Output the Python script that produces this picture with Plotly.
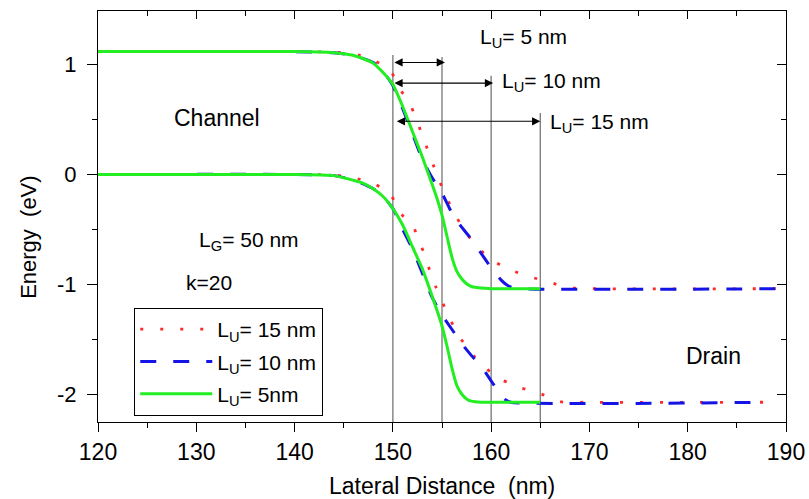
import plotly.graph_objects as go

# ---------------- data ----------------
X_RANGE = [120, 190]
Y_RANGE = [-2.255, 1.49]
y_tickvals = [-2, -1, 0, 1]
y_ticktext = ["-2", "-1", "0", "1"]

# L_U = 15 nm (red dotted) : conduction band (cb) and valence band (vb)
x15_cb = [120, 140, 144, 146, 148, 149, 149.9, 150.6, 151.6, 152.3, 152.9, 153.5, 154.1, 154.7,
          155.4, 156.2, 157.1, 158.3, 159.9, 161.85, 163.9, 165.9, 167.8, 170, 190]
e15_cb = [1.12, 1.12, 1.115, 1.10, 1.045, 0.99, 0.925, 0.79, 0.67, 0.525, 0.38, 0.235, 0.09, -0.05,
          -0.2, -0.34, -0.485, -0.63, -0.77, -0.865, -0.93, -0.98, -1.03, -1.04, -1.04]
x15_vb = [120, 142, 144, 146, 148, 149, 149.9, 150.6, 152.0, 152.6, 153.3, 153.8, 154.4, 155.1,
          155.85, 156.7, 157.8, 159.4, 161.1, 163.1, 165.1, 167.0, 170, 188]
e15_vb = [0, 0, -0.005, -0.03, -0.08, -0.13, -0.2, -0.34, -0.455, -0.6, -0.74, -0.89, -1.03, -1.175,
          -1.325, -1.465, -1.61, -1.76, -1.87, -1.945, -2.0, -2.07, -2.075, -2.075]

# L_U = 10 nm (blue dashed)
x10_cb = [120, 140, 144, 146, 148, 149, 150, 151, 152, 153, 154, 155, 156, 157, 158, 159, 160,
          161, 161.5, 162, 163, 190]
e10_cb = [1.12, 1.12, 1.11, 1.085, 1.02, 0.94, 0.81, 0.6, 0.37, 0.14, -0.03, -0.17, -0.35, -0.48,
          -0.59, -0.72, -0.85, -0.96, -1.0, -1.025, -1.04, -1.04]
x10_vb = [120, 140, 144, 146, 148, 149, 150, 151, 152, 153, 154, 155, 156, 157, 158, 159, 160,
          160.9, 161.5, 162, 188]
e10_vb = [0, 0, -0.01, -0.05, -0.13, -0.2, -0.31, -0.5, -0.68, -0.9, -1.12, -1.28, -1.41, -1.54,
          -1.65, -1.75, -1.88, -2.0, -2.055, -2.075, -2.075]

# L_U = 5 nm (green solid)
x5_cb = [120, 140, 144, 145, 146, 147, 148, 149, 150, 151, 152, 153, 154, 154.5, 155, 155.5, 156,
         156.5, 157, 157.5, 158, 159, 160, 165]
e5_cb = [1.12, 1.12, 1.11, 1.10, 1.085, 1.055, 1.015, 0.93, 0.82, 0.62, 0.39, 0.16, -0.09, -0.22,
         -0.37, -0.56, -0.75, -0.88, -0.95, -0.995, -1.02, -1.035, -1.04, -1.04]
x5_vb = [120, 140, 144, 145, 147, 148, 149, 150, 151, 152, 153, 154, 155, 155.5, 156, 156.5, 157,
         157.5, 158, 159, 160, 165]
e5_vb = [0, 0, -0.01, -0.03, -0.08, -0.13, -0.2, -0.31, -0.46, -0.66, -0.86, -1.11, -1.38, -1.56,
         -1.76, -1.92, -2.0, -2.045, -2.065, -2.075, -2.075, -2.075]

series_names = ["L<sub>U</sub>= 15 nm", "L<sub>U</sub>= 10 nm", "L<sub>U</sub>= 5nm"]

# vertical guide lines and double arrows
vline_x = [150, 155, 160, 165]
vline_top = [1.09, 1.07, 0.9, 0.56]
arrow_start = [150, 150, 150.25]
arrow_end = [155.3, 160.2, 165]
arrow_y = [1.021, 0.833, 0.485]
arrow_labels = ["L<sub>U</sub>= 5 nm", "L<sub>U</sub>= 10 nm", "L<sub>U</sub>= 15 nm"]
arrow_label_x = [158.7, 160.9, 165.8]
arrow_label_y = [1.245, 0.84, 0.47]

FONT = "Liberation Sans, Arial, sans-serif"

fig = go.Figure()

styles = [
    dict(color="#ff2a2a", width=2.8, dash="3px,17px"),
    dict(color="#1414e6", width=3, dash="16px,17px"),
    dict(color="#22ee22", width=3),
]
data = [(x15_cb, e15_cb, x15_vb, e15_vb), (x10_cb, e10_cb, x10_vb, e10_vb), (x5_cb, e5_cb, x5_vb, e5_vb)]

for name, (xc, ec, xv, ev), st in zip(series_names, data, styles):
    fig.add_trace(go.Scatter(x=xc, y=ec, mode="lines", name=name, legendgroup=name,
                             line=dict(shape="spline", smoothing=0.6, **st), hoverinfo="skip"))
    fig.add_trace(go.Scatter(x=xv, y=ev, mode="lines", name=name, legendgroup=name, showlegend=False,
                             line=dict(shape="spline", smoothing=0.6, **st), hoverinfo="skip"))

# empty trace so the mirrored (top / right) axes are drawn
fig.add_trace(go.Scatter(x=[], y=[], xaxis="x2", yaxis="y2", showlegend=False, hoverinfo="skip"))

shapes = []
for vx, vt in zip(vline_x, vline_top):
    shapes.append(dict(type="line", xref="x", yref="y", x0=vx, x1=vx, y0=Y_RANGE[0], y1=vt,
                       line=dict(color="#808080", width=1.4), layer="below"))

annotations = []
for xs, xe, ya in zip(arrow_start, arrow_end, arrow_y):
    annotations.append(dict(x=xe, y=ya, ax=xs, ay=ya, xref="x", yref="y", axref="x", ayref="y",
                            text="", showarrow=True, arrowhead=2, arrowside="end+start",
                            arrowsize=1.5, arrowwidth=1.1, arrowcolor="black", standoff=0, startstandoff=0))
for t, lx, ly in zip(arrow_labels, arrow_label_x, arrow_label_y):
    annotations.append(dict(x=lx, y=ly, xref="x", yref="y", text=t, showarrow=False,
                            xanchor="left", yanchor="middle", font=dict(family=FONT, size=21, color="black")))

annotations += [
    dict(x=132.1, y=0.515, xref="x", yref="y", text="Channel", showarrow=False,
         font=dict(family=FONT, size=23, color="black")),
    dict(x=182.6, y=-1.652, xref="x", yref="y", text="Drain", showarrow=False,
         font=dict(family=FONT, size=23, color="black")),
    dict(x=135.4, y=-0.609, xref="x", yref="y", text="L<sub>G</sub>= 50 nm", showarrow=False,
         font=dict(family=FONT, size=21, color="black")),
    dict(x=131.3, y=-0.988, xref="x", yref="y", text="k=20", showarrow=False,
         font=dict(family=FONT, size=21, color="black")),
    dict(x=-0.102, y=0.45, xref="paper", yref="paper", text="Energy  (eV)", textangle=-90,
         showarrow=False, xanchor="center", yanchor="middle", font=dict(family=FONT, size=22, color="black")),
    dict(x=0.5, y=-0.155, xref="paper", yref="paper", text="Lateral Distance  (nm)",
         showarrow=False, xanchor="center", yanchor="middle", font=dict(family=FONT, size=23, color="black")),
]

axis_common = dict(showgrid=False, zeroline=False, showline=True, linecolor="black", linewidth=1.2,
                   tickcolor="black", tickwidth=1.2, automargin=False)

fig.update_layout(
    width=809, height=499,
    margin=dict(l=98, r=23, t=11, b=77),
    paper_bgcolor="white", plot_bgcolor="white",
    font=dict(family=FONT, color="black"),
    shapes=shapes, annotations=annotations,
    xaxis=dict(range=X_RANGE, tickmode="linear", tick0=120, dtick=10, ticks="outside", ticklen=9,
               tickfont=dict(size=23), minor=dict(tick0=120, dtick=5, ticks="outside", ticklen=5,
                                                   tickcolor="black", tickwidth=1.2, showgrid=False),
               **axis_common),
    yaxis=dict(range=Y_RANGE, tickmode="array", tickvals=y_tickvals, ticktext=y_ticktext,
               ticks="outside", ticklen=10, tickfont=dict(size=22), ticklabelstandoff=6,
               minor=dict(tick0=0, dtick=0.5, ticks="outside", ticklen=5, tickcolor="black",
                          tickwidth=1.2, showgrid=False),
               **axis_common),
    xaxis2=dict(range=X_RANGE, overlaying="x", side="top", anchor="y2", tickmode="linear", tick0=120,
                dtick=10, ticks="inside", ticklen=8, showticklabels=False,
                minor=dict(tick0=120, dtick=5, ticks="inside", ticklen=5, tickcolor="black",
                           tickwidth=1.2, showgrid=False),
                **axis_common),
    yaxis2=dict(range=Y_RANGE, overlaying="y", side="right", anchor="x2", tickmode="linear", tick0=0,
                dtick=1, ticks="inside", ticklen=9, showticklabels=False,
                minor=dict(tick0=0, dtick=0.5, ticks="inside", ticklen=5, tickcolor="black",
                           tickwidth=1.2, showgrid=False),
                **axis_common),
    legend=dict(x=0.0524, y=0.278, xanchor="left", yanchor="top", bgcolor="white",
                bordercolor="black", borderwidth=1.2, font=dict(family=FONT, size=21, color="black"),
                itemwidth=72, tracegroupgap=2, traceorder="grouped"),
    showlegend=True,
)

fig.write_html("out.html")
